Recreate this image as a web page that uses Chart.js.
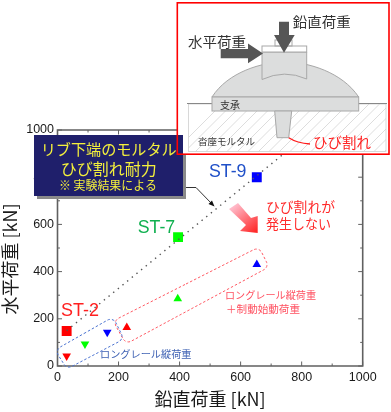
<!DOCTYPE html>
<html lang="ja"><head><meta charset="utf-8">
<script src="https://cdn.jsdelivr.net/npm/chart.js@4"></script>
<style>html,body{margin:0;padding:0;background:#fff}canvas{display:block;filter:blur(0.55px)}</style>
</head><body><canvas id="c" width="391" height="412"></canvas>
<script>
const xTickValues = [0,200,400,600,800,1000];
const yTickValues = [0,200,400,600,800,1000];
const specimenColors = ['#ff0000','#00ff00','#0000ff'];
const crackX = [30,395,653];
const crackY = [148,546,800];
const longRailX = [30,90,163];
const longRailY = [42,93,143];
const brakeX = [227,394,653];
const brakeY = [163,285,430];
const limitLineX = [30,780];
const limitLineY = [150,940];
const xTitle = '鉛直荷重 [kN]';
const yTitle = '水平荷重 [kN]';

const CJK = '"Noto Sans CJK JP","Noto Sans",sans-serif';
const LAT = '"Liberation Sans",Arial,sans-serif';
const pts = (xs,ys)=>xs.map((x,i)=>({x,y:ys[i]}));

function text(ctx,s,x,y,font,color,w){
  ctx.font=font;ctx.fillStyle=color;ctx.textAlign='left';ctx.textBaseline='middle';
  const m=ctx.measureText(s).width;
  ctx.save();ctx.translate(x,y);ctx.scale(w/m,1);ctx.fillText(s,0,0);ctx.restore();
}
function poly(ctx,p,close=true){ctx.beginPath();p.forEach((q,i)=>i?ctx.lineTo(q[0],q[1]):ctx.moveTo(q[0],q[1]));if(close)ctx.closePath();}
function rounded(ctx,p,r){
  ctx.beginPath();
  const n=p.length,a=p[0],b=p[1];
  ctx.moveTo((a[0]+b[0])/2,(a[1]+b[1])/2);
  for(let i=1;i<=n;i++){const u=p[i%n],v=p[(i+1)%n];ctx.arcTo(u[0],u[1],v[0],v[1],r);}
  ctx.closePath();
}
function drawFrame(ch){
  const c=ch.ctx,a=ch.chartArea,sx=ch.scales.x,sy=ch.scales.y;
  const l=a.left,r=a.right,t=a.top,b=a.bottom;
  c.save();c.setLineDash([]);c.globalAlpha=1;c.strokeStyle='#606060';c.lineWidth=1;
  for(let v=0;v<=1000;v+=100){
    const L=v%200===0?4.5:2.5,x=sx.getPixelForValue(v),y=sy.getPixelForValue(v);
    c.beginPath();c.moveTo(x,b);c.lineTo(x,b-L);c.moveTo(x,t);c.lineTo(x,t+L);
    c.moveTo(l,y);c.lineTo(l+L,y);c.moveTo(r,y);c.lineTo(r-L,y);c.stroke();
  }
  c.lineWidth=1.6;c.beginPath();c.rect(l,t,r-l,b-t);c.stroke();
  c.restore();
}
const notes={id:'notes',afterDraw(ch){
  drawFrame(ch);
  const c=ch.ctx;c.save();
  c.lineWidth=1;
  c.setLineDash([2.5,2]);c.strokeStyle='#ff5a64';
  rounded(c,[[113,321],[259,247],[269,267],[126,344]],6);c.stroke();
  c.strokeStyle='#4a72d0';
  rounded(c,[[55,350],[113,317],[124,339],[67,369]],6);c.stroke();
  c.setLineDash([]);
  text(c,'ST-2',61,311,'17.5px '+LAT,'#ff2020',38);
  text(c,'ST-7',137.7,228.5,'17.5px '+LAT,'#10b050',37.5);
  text(c,'ST-9',209,172.5,'17.5px '+LAT,'#2050c8',37.5);
  text(c,'ひび割れが',266,206.5,'14px '+CJK,'#ff2a2a',69);
  text(c,'発生しない',266,224,'14px '+CJK,'#ff2a2a',65);
  text(c,'ロングレール縦荷重',225,295,'10px '+CJK,'#ff5060',91);
  text(c,'＋制動始動荷重',226,308.7,'10.5px '+CJK,'#ff5060',74);
  text(c,'ロングレール縦荷重',100,354,'10px '+CJK,'#3f62b4',91.5);
  const g=c.createLinearGradient(232,205,255,232);g.addColorStop(0,'#ffc4d4');g.addColorStop(1,'#ff2a2a');
  c.fillStyle=g;
  poly(c,[[229,209],[238,203],[251,218],[257.7,216],[257.7,233],[240,231],[246,225]]);c.fill();
  c.strokeStyle='#333';c.lineWidth=1;
  poly(c,[[183,187.5],[196,187.5],[212,204]],false);c.stroke();
  c.fillStyle='#111';poly(c,[[214.5,206.5],[208.5,204],[212,200.5]]);c.fill();
  c.fillStyle='#8a8a8a';c.fillRect(37,138,149,61);
  c.fillStyle='#1f1f6b';c.fillRect(34,135,149,61);
  text(c,'リブ下端のモルタル',40.7,149,'15px '+CJK,'#f4f03c',136);
  text(c,'ひび割れ耐力',60.7,168.7,'16px '+CJK,'#f4f03c',96);
  text(c,'※ 実験結果による',59,185,'12px '+CJK,'#f4f03c',98);
  c.fillStyle='#fff';c.fillRect(183,3,206,151);
  c.fillRect(177,3,6,132);
  c.save();c.beginPath();c.rect(188.5,104,197.5,47.5);c.clip();
  c.strokeStyle='#d4d4d4';c.lineWidth=.8;
  for(let x=170;x<460;x+=10.5){c.beginPath();c.moveTo(x,156);c.lineTo(x+52,104);c.stroke();}
  c.restore();
  c.strokeStyle='#cfcfcf';c.lineWidth=.8;c.strokeRect(188.5,104,197.5,47.5);
  c.strokeStyle='#888';c.lineWidth=1;
  poly(c,[[187,103.5],[212,103.5]],false);c.stroke();poly(c,[[358,103.5],[387,103.5]],false);c.stroke();
  c.fillStyle='#dcdddd';c.strokeStyle='#a8a8a8';
  c.beginPath();c.moveTo(212,97);c.bezierCurveTo(228,72,262,62,285,62);c.bezierCurveTo(308,62,342,72,358.7,97);c.closePath();c.fill();c.stroke();
  c.fillRect(212,97,146.7,14);c.strokeRect(212,97,146.7,14);
  poly(c,[[274.7,111],[291.7,111],[288.7,137.7],[277,137.7]]);c.fill();c.stroke();
  c.beginPath();c.moveTo(262,52);c.lineTo(306.7,52);c.lineTo(306.7,79);c.quadraticCurveTo(284.5,69,262,79.5);c.closePath();c.fill();c.stroke();
  c.fillStyle='#fff';c.fillRect(262,46,44.7,6);c.strokeRect(262,46,44.7,6);
  c.strokeRect(275,40,17,6);
  c.fillStyle='#565656';
  poly(c,[[279,21.7],[289,21.7],[289,35],[294.7,35],[284,52.7],[274,35],[279,35]]);c.fill();
  poly(c,[[220.7,49],[248,49],[248,43.5],[263,53.5],[248,63.3],[248,58.3],[220.7,58.3]]);c.fill();
  text(c,'鉛直荷重',292.7,21.7,'14px '+CJK,'#333',58);
  text(c,'水平荷重',188,41.7,'14px '+CJK,'#333',58);
  text(c,'支承',220,105,'10px '+CJK,'#333',20);
  text(c,'沓座モルタル',198,141,'9.5px '+CJK,'#333',57);
  text(c,'ひび割れ',313,142,'14.5px '+CJK,'#ff2020',58);
  c.strokeStyle='#ff1a1a';c.lineWidth=1.3;
  c.beginPath();c.moveTo(288.7,137.7);c.quadraticCurveTo(297,143,310,144);c.stroke();
  c.strokeStyle='#ff0000';c.lineWidth=1.6;c.strokeRect(177.3,2.8,211.7,151.4);
  c.restore();
}};
new Chart(document.getElementById('c'),{
  type:'scatter',
  data:{datasets:[
    {label:'limit',data:pts(limitLineX,limitLineY),showLine:true,pointRadius:0,borderColor:'#555',borderWidth:1.4,borderDash:[1.4,4.6]},
    {label:'crack',data:pts(crackX,crackY),pointStyle:'rect',pointRadius:7,pointBackgroundColor:specimenColors,pointBorderWidth:0},
    {label:'longRail',data:pts(longRailX,longRailY),pointStyle:'triangle',rotation:180,pointRadius:5,pointBackgroundColor:specimenColors,pointBorderWidth:0},
    {label:'brake',data:pts(brakeX,brakeY),pointStyle:'triangle',pointRadius:5,pointBackgroundColor:specimenColors,pointBorderWidth:0}
  ]},
  plugins:[notes],
  options:{
    responsive:false,animation:false,
    layout:{padding:{top:130,right:28.3,left:0,bottom:0}},
    plugins:{legend:{display:false},tooltip:{enabled:false}},
    scales:{
      x:{type:'linear',min:0,max:1000,
        afterFit(s){s.height=46;},
        grid:{display:false,drawTicks:false},border:{display:false},
        ticks:{stepSize:100,autoSkip:false,maxRotation:0,padding:4,color:'#1a1a1a',font:{family:LAT,size:12.5},
          callback:v=>xTickValues.includes(v)?String(v):''},
        title:{display:true,text:xTitle,color:'#1a1a1a',font:{family:CJK,size:18,lineHeight:1.05},padding:{top:0,bottom:3.8}}},
      y:{type:'linear',min:0,max:1000,
        afterFit(s){s.width=57.5;
          if(!s._shifted){const d=s.drawTitle.bind(s);s.drawTitle=function(){const c=s.ctx;c.save();c.translate(0,11);d();c.restore();};s._shifted=true;}},
        grid:{display:false,drawTicks:false},border:{display:false},
        ticks:{stepSize:100,autoSkip:false,padding:3.5,color:'#1a1a1a',font:{family:LAT,size:12.5},
          callback:v=>yTickValues.includes(v)?String(v):''},
        title:{display:true,text:yTitle,color:'#1a1a1a',font:{family:CJK,size:18,lineHeight:1.1},padding:{top:0,bottom:0}}}
    }
  }
});
</script></body></html>
